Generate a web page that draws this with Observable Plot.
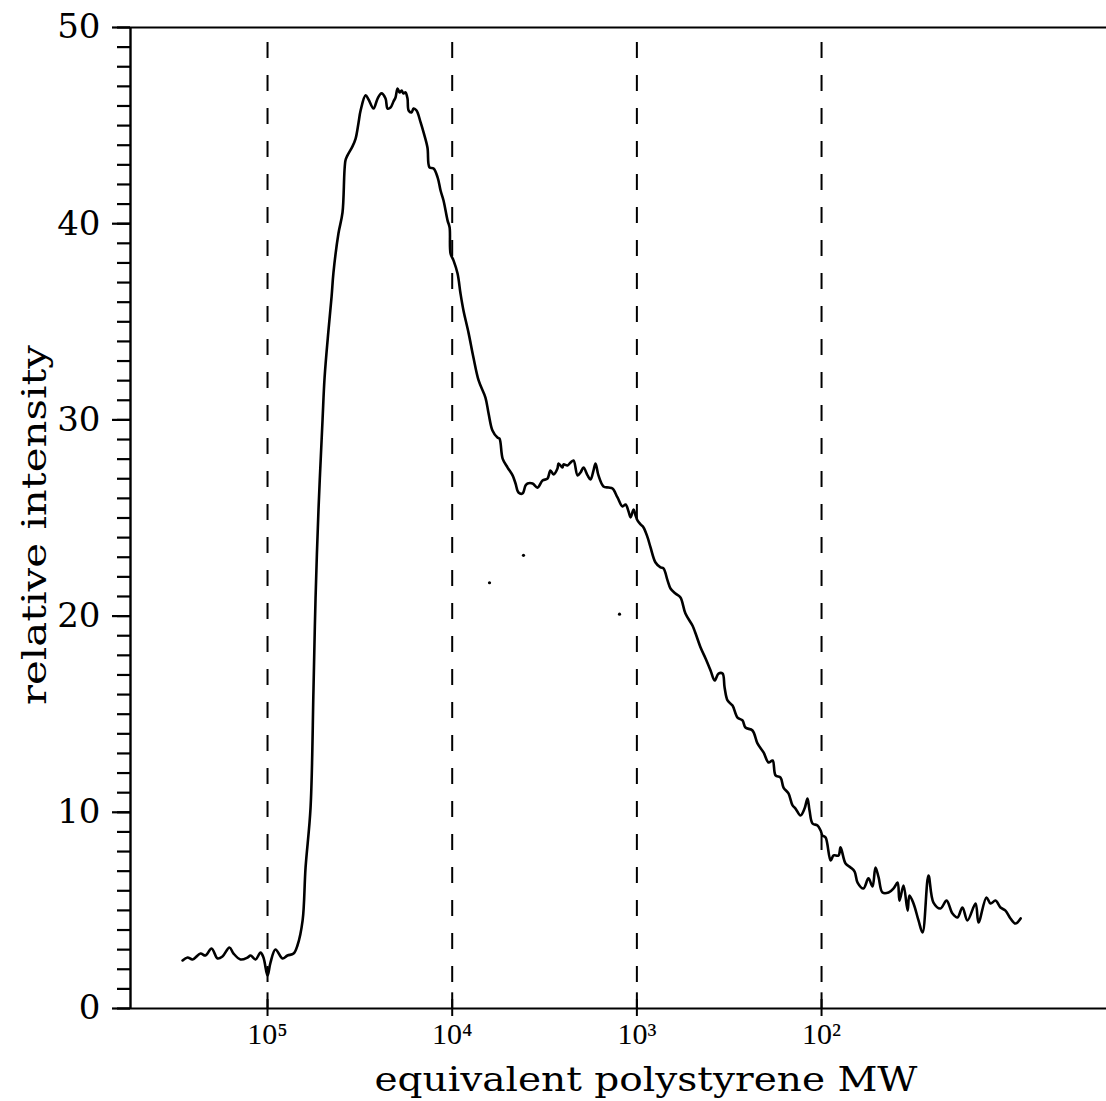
<!DOCTYPE html>
<html>
<head>
<meta charset="utf-8">
<script src="https://cdn.jsdelivr.net/npm/d3@7"></script>
<script src="https://cdn.jsdelivr.net/npm/@observablehq/plot@0.6"></script>
<style>
  html, body { margin: 0; padding: 0; background: #fff; }
  #chart svg { display: block; }
</style>
</head>
<body>
<div id="chart"></div>
<script>
// log10 of equivalent polystyrene MW (axis runs from high MW to low MW)
const logMW = [
  5.460, 5.433, 5.406, 5.363, 5.336, 5.303, 5.271, 5.244, 5.206, 5.184,
  5.146, 5.108, 5.092, 5.065, 5.038, 5.022, 5.000, 4.984, 4.957, 4.919,
  4.892, 4.859, 4.838, 4.810, 4.794, 4.767, 4.751, 4.740, 4.724, 4.702,
  4.691, 4.670, 4.653, 4.643, 4.616, 4.594, 4.578, 4.567, 4.540, 4.523,
  4.507, 4.496, 4.469, 4.453, 4.426, 4.404, 4.383, 4.361, 4.350, 4.334,
  4.318, 4.307, 4.296, 4.285, 4.274, 4.264, 4.253, 4.242, 4.236, 4.220,
  4.209, 4.193, 4.171, 4.155, 4.134, 4.123, 4.101, 4.079, 4.063, 4.047,
  4.025, 4.014, 4.009, 3.993, 3.971, 3.955, 3.939, 3.912, 3.885, 3.857,
  3.820, 3.803, 3.782, 3.755, 3.744, 3.727, 3.700, 3.673, 3.657, 3.641,
  3.619, 3.603, 3.592, 3.565, 3.538, 3.511, 3.484, 3.468, 3.451, 3.430,
  3.424, 3.403, 3.397, 3.376, 3.359, 3.343, 3.321, 3.305, 3.289, 3.267,
  3.251, 3.235, 3.224, 3.208, 3.181, 3.153, 3.132, 3.105, 3.078, 3.061,
  3.045, 3.034, 3.018, 3.007, 2.996, 2.980, 2.964, 2.942, 2.926, 2.899,
  2.872, 2.856, 2.834, 2.818, 2.791, 2.764, 2.737, 2.699, 2.682, 2.655,
  2.628, 2.601, 2.579, 2.558, 2.536, 2.525, 2.509, 2.482, 2.455, 2.428,
  2.412, 2.374, 2.347, 2.314, 2.287, 2.265, 2.249, 2.222, 2.206, 2.179,
  2.157, 2.141, 2.114, 2.092, 2.076, 2.065, 2.049, 2.022, 2.005, 1.995,
  1.978, 1.951, 1.935, 1.908, 1.897, 1.870, 1.843, 1.821, 1.805, 1.773,
  1.746, 1.724, 1.708, 1.691, 1.670, 1.637, 1.610, 1.588, 1.578, 1.556,
  1.534, 1.524, 1.502, 1.475, 1.453, 1.421, 1.394, 1.356, 1.323, 1.291,
  1.264, 1.237, 1.210, 1.166, 1.150, 1.107, 1.085, 1.058, 1.031, 1.004,
  0.977, 0.950, 0.922
];
// relative intensity
const intensity = [
  2.45, 2.60, 2.50, 2.80, 2.70, 3.06, 2.55, 2.65, 3.11, 2.80,
  2.50, 2.60, 2.70, 2.50, 2.85, 2.60, 1.68, 2.34, 3.01, 2.55,
  2.70, 2.80, 3.21, 4.49, 7.19, 10.24, 16.31, 20.90, 25.43, 30.02,
  32.16, 34.56, 36.29, 37.51, 39.50, 40.57, 43.22, 43.48, 43.94, 44.34,
  45.16, 45.77, 46.54, 46.33, 45.87, 46.38, 46.64, 46.38, 45.87, 45.92,
  46.23, 46.43, 46.89, 46.69, 46.79, 46.64, 46.69, 46.38, 45.77, 45.67,
  45.87, 45.77, 45.16, 44.65, 43.88, 42.87, 42.81, 42.36, 41.69, 41.18,
  40.16, 39.81, 38.48, 38.13, 37.46, 36.44, 35.58, 34.46, 33.18, 32.01,
  31.14, 30.33, 29.46, 29.10, 29.05, 28.03, 27.57, 27.17, 26.76, 26.30,
  26.25, 26.66, 26.76, 26.76, 26.55, 26.91, 27.01, 27.42, 27.22, 27.52,
  27.78, 27.57, 27.73, 27.68, 27.83, 27.93, 27.17, 27.32, 27.57, 27.17,
  26.96, 27.42, 27.78, 27.17, 26.61, 26.55, 26.50, 26.05, 25.59, 25.69,
  25.33, 25.03, 25.43, 25.13, 24.87, 24.67, 24.52, 24.01, 23.50, 22.73,
  22.48, 22.43, 21.82, 21.41, 21.15, 20.95, 20.13, 19.52, 19.11, 18.40,
  17.84, 17.23, 16.72, 17.07, 17.07, 16.36, 15.70, 15.44, 14.83, 14.68,
  14.32, 14.17, 13.51, 13.05, 12.54, 12.64, 11.88, 11.77, 11.26, 10.96,
  10.35, 10.19, 9.84, 10.19, 10.70, 10.09, 9.43, 9.33, 9.07, 8.82,
  8.72, 7.54, 7.80, 7.80, 8.21, 7.39, 7.19, 6.98, 6.42, 6.12,
  6.63, 6.22, 7.19, 6.68, 5.91, 5.91, 6.12, 6.42, 5.50, 6.27,
  4.99, 5.76, 5.35, 4.49, 3.87, 6.78, 5.40, 5.10, 5.50, 4.84,
  4.64, 5.15, 4.49, 5.35, 4.38, 5.66, 5.35, 5.50, 5.15, 4.99,
  4.59, 4.33, 4.59
];
// stray specks in the scanned figure
const speckLogMW = [3.798, 3.614, 3.094];
const speckIntensity = [21.7, 23.1, 20.1];

// decade markers (log10 MW) and their labels
const decades = [5, 4, 3, 2];
const sup = {5: "\u2075", 4: "\u2074", 3: "\u00B3", 2: "\u00B2"};

const xDomain = [5.742, 0.457];
const yDomain = [0, 50];
const yMajor = d3.range(0, 51, 10);
const yMinor = d3.range(0, 51, 1);

const curve = logMW.map((m, i) => ({m, v: intensity[i]}));
const specks = speckLogMW.map((m, i) => ({m, v: speckIntensity[i]}));

const serif = "'DejaVu Serif', 'Liberation Serif', serif";

const plot = Plot.plot({
  width: 1106,
  height: 1101,
  marginLeft: 130,
  marginRight: 0,
  marginTop: 27,
  marginBottom: 93,
  style: {background: "#fff", color: "#000"},
  x: {type: "linear", domain: xDomain, axis: null},
  y: {domain: yDomain, axis: null},
  marks: [
    // dashed decade lines
    Plot.ruleX(decades, {x: d => d, y1: 49.24, y2: 0, stroke: "#000", strokeWidth: 2, strokeDasharray: "16,17"}),
    // short tick crossing above the axis at each decade
    Plot.ruleX(decades, {x: d => d, y1: 0, y2: 0.8, stroke: "#000", strokeWidth: 2}),
    // the trace
    Plot.line(curve, {x: "m", y: "v", curve: "catmull-rom", stroke: "#000", strokeWidth: 2.6, strokeLinejoin: "round", strokeLinecap: "round"}),
    Plot.dot(specks, {x: "m", y: "v", r: 1.6, fill: "#000", stroke: null}),
    // frame: bottom, top, left
    Plot.ruleY([yDomain[0], yDomain[1]], {x1: xDomain[0], x2: xDomain[1], stroke: "#000", strokeWidth: 2.2}),
    Plot.ruleX([xDomain[0]], {y1: yDomain[0], y2: yDomain[1], stroke: "#000", strokeWidth: 2.4}),
    // y axis ticks
    Plot.axisY({ticks: yMinor, tickSize: 13, tickFormat: () => "", strokeWidth: 2.2, anchor: "left", label: null}),
    Plot.axisY({ticks: yMajor, tickSize: 18, tickPadding: 12, strokeWidth: 2.2, anchor: "left",
      fontSize: 34, fontFamily: serif, label: null}),
    // x axis ticks and labels
    Plot.axisX({ticks: decades, tickSize: 8, tickPadding: 6, strokeWidth: 2, anchor: "bottom",
      tickFormat: d => "10" + sup[d], fontSize: 30, fontFamily: "'Liberation Serif', 'DejaVu Serif', serif", label: null})
  ]
});

document.getElementById("chart").appendChild(plot);

// axis titles
const svg = d3.select(plot);
svg.append("text")
  .attr("x", 646).attr("y", 1091)
  .attr("text-anchor", "middle")
  .attr("font-family", serif)
  .attr("font-size", 34)
  .attr("fill", "#000")
  .attr("textLength", 543)
  .attr("lengthAdjust", "spacingAndGlyphs")
  .text("equivalent polystyrene MW");
svg.append("text")
  .attr("transform", "translate(46,525) rotate(-90)")
  .attr("text-anchor", "middle")
  .attr("font-family", serif)
  .attr("font-size", 34)
  .attr("fill", "#000")
  .attr("textLength", 360)
  .attr("lengthAdjust", "spacingAndGlyphs")
  .text("relative intensity");
</script>
</body>
</html>
